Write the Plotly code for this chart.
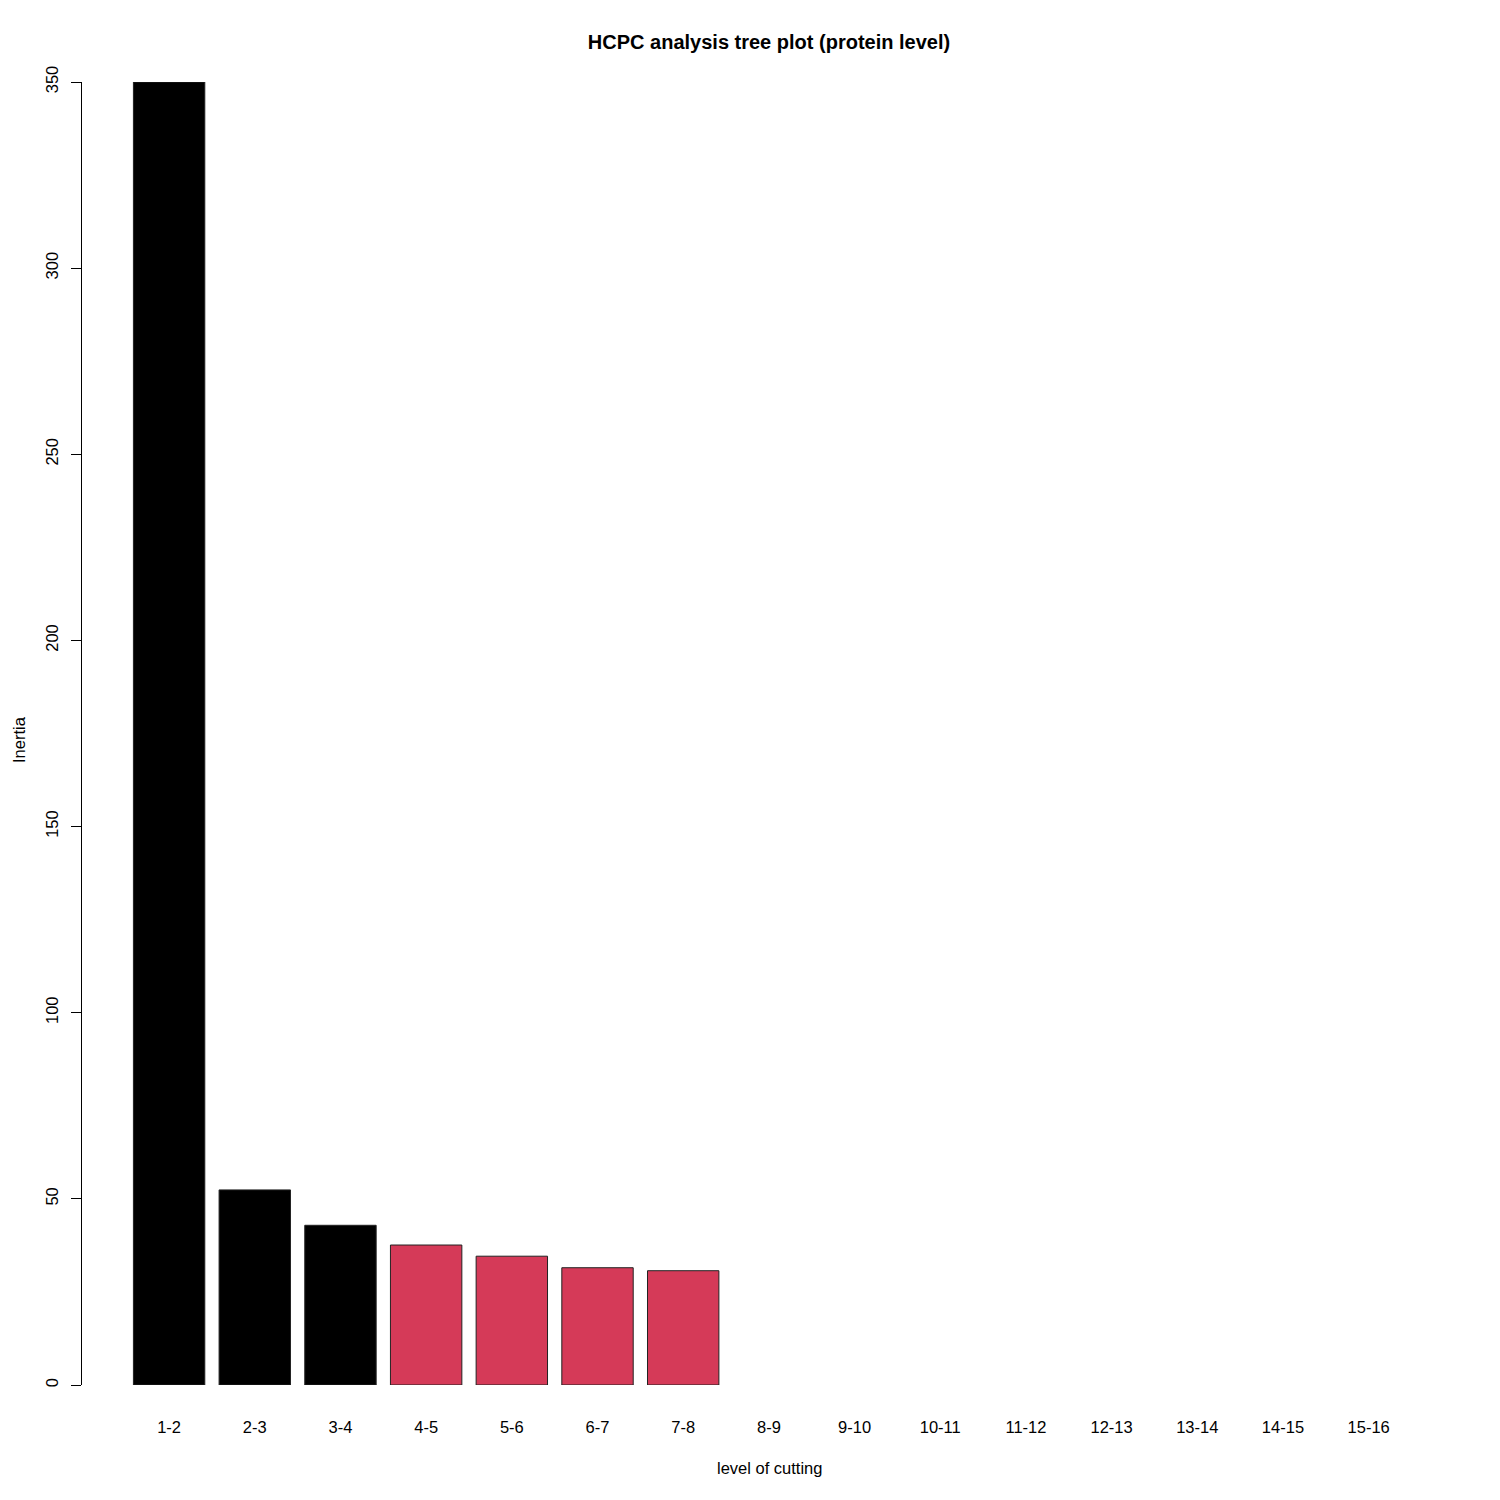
import plotly.graph_objects as go

# HCPC inertia gain per level of cutting (bars past 7-8 are empty in the source)
levels = ["1-2", "2-3", "3-4", "4-5", "5-6", "6-7", "7-8", "8-9", "9-10",
          "10-11", "11-12", "12-13", "13-14", "14-15", "15-16"]
inertia = [350.0, 52.4, 42.9, 37.6, 34.6, 31.5, 30.7,
           None, None, None, None, None, None, None, None]
bar_colors = ["#000000"] * 3 + ["#D53A58"] * 12
y_ticks = [0, 50, 100, 150, 200, 250, 300, 350]

font_family = "Liberation Sans, Arial, Helvetica, sans-serif"

# page body adds an 8px offset, margins below account for it
fig = go.Figure(go.Bar(
    x=levels,
    y=inertia,
    marker=dict(color=bar_colors, line=dict(color="#222222", width=1)),
    width=0.8333,
))

fig.update_layout(
    width=1500,
    height=1500,
    margin=dict(l=74, r=38, t=74, b=123),
    paper_bgcolor="white",
    plot_bgcolor="white",
    showlegend=False,
    font=dict(family=font_family, size=16.5, color="black"),
    title=dict(
        text="<b>HCPC analysis tree plot (protein level)</b>",
        x=761 / 1500, xref="container", xanchor="center",
        y=1 - 34 / 1500, yref="container", yanchor="middle",
        font=dict(size=20, family=font_family, color="black"),
    ),
)

fig.update_xaxes(
    type="category",
    range=[-1.0167, 15.183],
    showline=False,
    showgrid=False,
    zeroline=False,
    ticks="",
    ticklabelstandoff=30,
    tickfont=dict(size=16.5),
)

fig.update_yaxes(
    range=[0, 350],
    tickvals=y_ticks,
    ticktext=[str(v) for v in y_ticks],
    tickangle=-90,
    showline=True,
    linecolor="black",
    linewidth=1,
    ticks="outside",
    ticklen=10,
    tickwidth=1,
    tickcolor="black",
    ticklabelstandoff=6,
    showgrid=False,
    zeroline=False,
    tickfont=dict(size=16.5),
)

fig.add_annotation(
    text="level of cutting", xref="paper", yref="paper",
    x=(769 - 82) / (1470 - 82), y=-(1468 - 1385) / (1385 - 82),
    xanchor="center", yanchor="middle", showarrow=False,
    font=dict(size=16.5),
)
fig.add_annotation(
    text="Inertia", xref="paper", yref="paper",
    x=-(82 - 19) / (1470 - 82), y=(1385 - 740) / (1385 - 82),
    xanchor="center", yanchor="middle", showarrow=False,
    textangle=-90, borderpad=0, font=dict(size=16.5),
)

fig.write_html("out.html")
